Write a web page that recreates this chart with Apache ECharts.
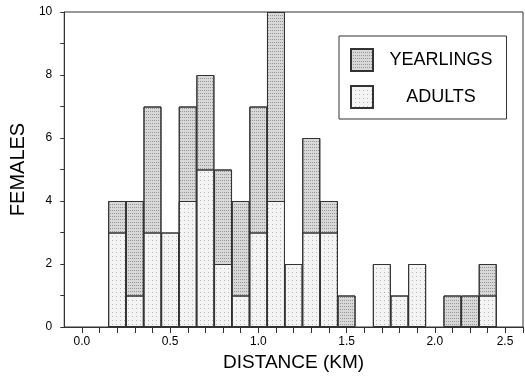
<!DOCTYPE html>
<html>
<head>
<meta charset="utf-8">
<script src="https://cdn.jsdelivr.net/npm/echarts@6/dist/echarts.min.js"></script>
<style>
    html, body { margin: 0; padding: 0; background: #fff; }
    #chart { width: 525px; height: 380px; }
</style>
</head>
<body>
<div id="chart"></div>
<script>
// distance bins (km), one bar per 0.1 km
const distance = [0.2, 0.3, 0.4, 0.5, 0.6, 0.7, 0.8, 0.9, 1.0, 1.1, 1.2,
    1.3, 1.4, 1.5, 1.6, 1.7, 1.8, 1.9, 2.0, 2.1, 2.2, 2.3];
const adults = [3, 1, 3, 3, 4, 5, 2, 1, 3, 4, 2, 3, 3, 0, 0, 2, 1, 2, 0, 0, 0, 1];
const yearlings = [1, 3, 4, 0, 3, 3, 3, 3, 4, 6, 0, 3, 1, 1, 0, 0, 0, 0, 0, 1, 1, 1];
const xLabels = [0.0, 0.5, 1.0, 1.5, 2.0, 2.5];
const yLabels = [0, 2, 4, 6, 8, 10];

const font = '"Liberation Sans", Arial, sans-serif';

// yearlings sit on top of adults: the back bar is drawn to the total
const totals = adults.map((a, i) => a + yearlings[i]);

function pairs(vals) {
    return distance.map((d, i) => vals[i] ? [d, vals[i]] : [d, '-']);
}

const chart = echarts.init(document.getElementById('chart'), null, { renderer: 'canvas' });

chart.setOption({
    animation: false,
    backgroundColor: '#fff',
    textStyle: { fontFamily: font },
    grid: {
        left: 61, right: 2, top: 12, bottom: 53,
        show: true, borderColor: '#333', borderWidth: 1
    },
    legend: {
        orient: 'vertical',
        left: 339, top: 36,
        padding: [12, 14, 10, 11],
        itemGap: 13,
        itemWidth: 22, itemHeight: 22,
        icon: 'rect',
        borderColor: '#333', borderWidth: 1,
        data: ['YEARLINGS', 'ADULTS'],
        formatter: name => '{c|' + name + '}',
        textStyle: {
            fontFamily: font,
            rich: { c: { width: 126, align: 'center', fontSize: 18, color: '#000', fontFamily: font } }
        }
    },
    xAxis: {
        type: 'value',
        min: -0.1, max: 2.5, interval: 0.1,
        name: 'DISTANCE (KM)',
        nameLocation: 'middle',
        nameGap: 25,
        nameTextStyle: { fontSize: 19, color: '#000', fontFamily: font },
        axisLine: { onZero: false, lineStyle: { color: '#333' } },
        axisTick: { length: 6, lineStyle: { color: '#333' } },
        splitLine: { show: false },
        axisLabel: {
            margin: 9, fontSize: 12, color: '#000', showMinLabel: false, showMaxLabel: true,
            formatter: v => {
                const r = Math.round(v * 10) / 10;
                if (!xLabels.some(x => Math.abs(x - r) < 1e-6)) return '';
                return r === 2.5 ? '{r|2.5}' : r.toFixed(1);
            },
            rich: { r: { padding: [0, 36, 0, 0], fontSize: 12, color: '#000' } }
        }
    },
    yAxis: {
        type: 'value',
        min: 0, max: 10, interval: 1,
        name: 'FEMALES',
        nameLocation: 'middle',
        nameGap: 31,
        nameTextStyle: { fontSize: 20, color: '#000', fontFamily: font },
        axisLine: { show: true, onZero: false, lineStyle: { color: '#333' } },
        axisTick: { show: true, length: 4, lineStyle: { color: '#333' } },
        splitLine: { show: false },
        axisLabel: {
            margin: 12, fontSize: 12, color: '#000',
            formatter: v => yLabels.includes(v) ? String(v) : ''
        }
    },
    series: [
        {
            name: 'YEARLINGS',
            type: 'bar',
            barWidth: 18,
            data: pairs(totals).map((p, i) => yearlings[i] ? p : [p[0], '-']),
            itemStyle: {
                color: '#d8d8d8',
                borderColor: '#333', borderWidth: 1,
                decal: { symbol: 'rect', symbolSize: 1, dashArrayX: [1, 1], dashArrayY: [1, 2], color: 'rgba(0,0,0,0.3)' }
            }
        },
        {
            name: 'ADULTS',
            type: 'bar',
            barWidth: 18,
            barGap: '-100%',
            data: pairs(adults),
            itemStyle: {
                color: '#f4f4f4',
                borderColor: '#333', borderWidth: 1,
                decal: { symbol: 'rect', symbolSize: 1, dashArrayX: [1, 3], dashArrayY: [1, 3], color: 'rgba(0,0,0,0.25)' }
            }
        }
    ]
});
</script>
</body>
</html>
